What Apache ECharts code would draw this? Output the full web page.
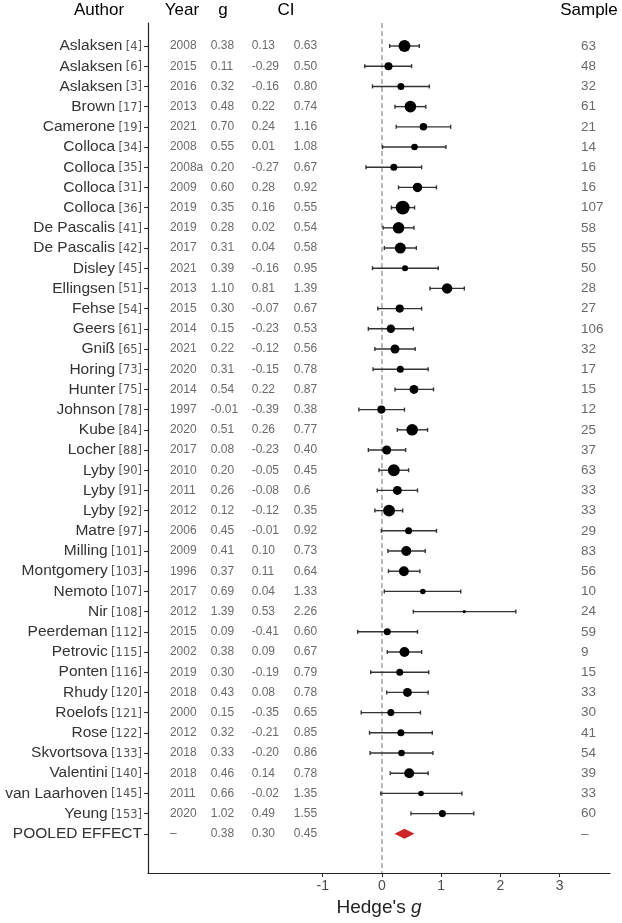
<!DOCTYPE html>
<html><head><meta charset="utf-8">
<script src="https://cdn.jsdelivr.net/npm/echarts@6/dist/echarts.min.js"></script>
<style>html,body{margin:0;padding:0;background:#fff}#c{width:622px;height:923px}</style>
</head><body><div id="c"></div>
<script>
// ---------------- data ----------------
const authors = ["Aslaksen","Aslaksen","Aslaksen","Brown","Camerone","Colloca","Colloca","Colloca","Colloca","De Pascalis","De Pascalis","Disley","Ellingsen","Fehse","Geers","Gniß","Horing","Hunter","Johnson","Kube","Locher","Lyby","Lyby","Lyby","Matre","Milling","Montgomery","Nemoto","Nir","Peerdeman","Petrovic","Ponten","Rhudy","Roelofs","Rose","Skvortsova","Valentini","van Laarhoven","Yeung"];
const refs = [4,6,3,17,19,34,35,31,36,41,42,45,51,54,61,65,73,75,78,84,88,90,91,92,97,101,103,107,108,112,115,116,120,121,122,133,140,145,153];
const years = ["2008","2015","2016","2013","2021","2008","2008a","2009","2019","2019","2017","2021","2013","2015","2014","2021","2020","2014","1997","2020","2017","2010","2011","2012","2006","2009","1996","2017","2012","2015","2002","2019","2018","2000","2012","2018","2018","2011","2020"];
const gText = ["0.38","0.11","0.32","0.48","0.70","0.55","0.20","0.60","0.35","0.28","0.31","0.39","1.10","0.30","0.15","0.22","0.31","0.54","-0.01","0.51","0.08","0.20","0.26","0.12","0.45","0.41","0.37","0.69","1.39","0.09","0.38","0.30","0.43","0.15","0.32","0.33","0.46","0.66","1.02"];
const loText = ["0.13","-0.29","-0.16","0.22","0.24","0.01","-0.27","0.28","0.16","0.02","0.04","-0.16","0.81","-0.07","-0.23","-0.12","-0.15","0.22","-0.39","0.26","-0.23","-0.05","-0.08","-0.12","-0.01","0.10","0.11","0.04","0.53","-0.41","0.09","-0.19","0.08","-0.35","-0.21","-0.20","0.14","-0.02","0.49"];
const hiText = ["0.63","0.50","0.80","0.74","1.16","1.08","0.67","0.92","0.55","0.54","0.58","0.95","1.39","0.67","0.53","0.56","0.78","0.87","0.38","0.77","0.40","0.45","0.6","0.35","0.92","0.73","0.64","1.33","2.26","0.60","0.67","0.79","0.78","0.65","0.85","0.86","0.78","1.35","1.55"];
const samples = ["63","48","32","61","21","14","16","16","107","58","55","50","28","27","106","32","17","15","12","25","37","63","33","33","29","83","56","10","24","59","9","15","33","30","41","54","39","33","60"];
// estimated relative study weights (%)
const weights = [4.6,2.1,1.6,4.3,1.8,1.4,1.6,2.9,6.3,4.3,3.9,1.2,3.5,2.1,2.3,2.6,1.6,2.6,2.1,4.3,2.6,4.6,2.6,4.6,1.6,3.2,3.2,1.0,0.3,1.6,3.2,1.6,2.6,1.6,1.6,1.4,3.2,1.0,1.6];
const pooledLabel = "POOLED EFFECT";
const pooledYear = "–";
const pooledG = "0.38";
const pooledLo = "0.30";
const pooledHi = "0.45";
const pooledSample = "–";
const xTicks = [-1, 0, 1, 2, 3];
const headers = ["Author", "Year", "g", "CI", "Sample"];

// ---------------- layout / style ----------------
const FONT = '"Liberation Sans", Arial, sans-serif';
const n = authors.length;
const rowIdx = Array.from({length: n + 1}, (_, i) => i);
const COLX = {year: -3.58, g: -2.89, lo: -2.20, hi: -1.49, sample: 3.36};
const sizeOf = w => Math.sqrt(w * 31);

function rowLabel(i) {
  if (i < n) return '{a|' + authors[i] + '} {r|[' + refs[i] + ']}';
  return '{a|' + pooledLabel + '}';
}
function textSeries(x, texts, size) {
  return {
    type: 'scatter', silent: true, symbolSize: 0, z: 5,
    itemStyle: {color: 'transparent'},
    data: texts.map((t, i) => [x, i, t]),
    label: {show: true, position: 'right', distance: 0,
      formatter: p => p.value[2], color: '#444', fontSize: size, fontFamily: FONT}
  };
}

const chart = echarts.init(document.getElementById('c'), null, {renderer: 'canvas'});
const option = {
  animation: false,
  backgroundColor: '#fff',
  grid: {left: 148, right: 12, top: 23, bottom: 50},
  xAxis: {
    type: 'value', min: -3.95, max: 3.85,
    axisLine: {show: true, onZero: false, lineStyle: {color: '#222', width: 1.2}},
    axisTick: {show: true, customValues: xTicks, length: 4, lineStyle: {color: '#333', width: 1.1}},
    axisLabel: {customValues: xTicks, fontSize: 14, color: '#4d4d4d', fontFamily: FONT, margin: 6},
    splitLine: {show: false},
    name: "{n|Hedge's }{i|g}", nameLocation: 'middle', nameGap: 18,
    nameTextStyle: {rich: {
      n: {fontSize: 19, color: '#222', fontFamily: FONT},
      i: {fontSize: 19, color: '#222', fontFamily: FONT, fontStyle: 'italic'}
    }}
  },
  yAxis: {
    type: 'value', inverse: true, min: -1.14, max: 40.94,
    axisLine: {show: true, onZero: false, lineStyle: {color: '#222', width: 1.2}},
    axisTick: {show: true, customValues: rowIdx, length: 4, lineStyle: {color: '#333', width: 1.1}},
    axisLabel: {customValues: rowIdx, margin: 6, formatter: v => rowLabel(v),
      rich: {
        a: {fontSize: 15.5, lineHeight: 18, color: '#333', fontFamily: FONT},
        r: {fontSize: 11.5, lineHeight: 18, color: '#555', fontFamily: '"DejaVu Sans", sans-serif', padding: [2, 0, 0, 0]}
      }},
    splitLine: {show: false}
  },
  graphic: headers.map((h, k) => ({
    type: 'text', silent: true,
    style: {text: h, x: [99, 182, 223, 286, 589][k], y: 10, align: 'center', verticalAlign: 'middle',
      fontSize: 17, fontFamily: FONT, fill: '#000'}
  })),
  series: [
    { // null-effect reference line
      type: 'custom', silent: true, z: 1,
      data: [[0, 0]], encode: {x: 0, y: 1},
      renderItem: (params, api) => {
        const x = api.coord([api.value(0), 0])[0];
        const cs = params.coordSys;
        return {type: 'line', shape: {x1: x, y1: cs.y, x2: x, y2: cs.y + cs.height},
          style: {stroke: '#8c8c8c', lineWidth: 1.2, lineDash: [5, 3]}};
      }
    },
    { // confidence intervals
      type: 'custom', silent: true, z: 3,
      data: authors.map((a, i) => [parseFloat(loText[i]), parseFloat(hiText[i]), i]),
      encode: {x: [0, 1], y: 2},
      renderItem: (params, api) => {
        const y = api.value(2);
        const a = api.coord([api.value(0), y]);
        const b = api.coord([api.value(1), y]);
        const st = {stroke: '#333', lineWidth: 1.4};
        return {type: 'group', children: [
          {type: 'line', shape: {x1: a[0], y1: a[1], x2: b[0], y2: b[1]}, style: st},
          {type: 'line', shape: {x1: a[0], y1: a[1] - 2, x2: a[0], y2: a[1] + 2}, style: st},
          {type: 'line', shape: {x1: b[0], y1: b[1] - 2, x2: b[0], y2: b[1] + 2}, style: st}
        ]};
      }
    },
    { // study estimates
      type: 'scatter', silent: true, z: 4,
      data: authors.map((a, i) => [parseFloat(gText[i]), i, weights[i]]),
      symbol: 'circle', symbolSize: v => sizeOf(v[2]),
      itemStyle: {color: '#000', opacity: 1}
    },
    { // pooled estimate
      type: 'scatter', silent: true, z: 4,
      data: [[parseFloat(pooledG), n]],
      symbol: 'diamond', symbolSize: [20, 10],
      itemStyle: {color: '#cd2626', opacity: 1}
    },
    textSeries(COLX.year, years.concat([pooledYear]), 12),
    textSeries(COLX.g, gText.concat([pooledG]), 12),
    textSeries(COLX.lo, loText.concat([pooledLo]), 12),
    textSeries(COLX.hi, hiText.concat([pooledHi]), 12),
    textSeries(COLX.sample, samples.concat([pooledSample]), 13.5)
  ]
};
chart.setOption(option);
</script></body></html>
